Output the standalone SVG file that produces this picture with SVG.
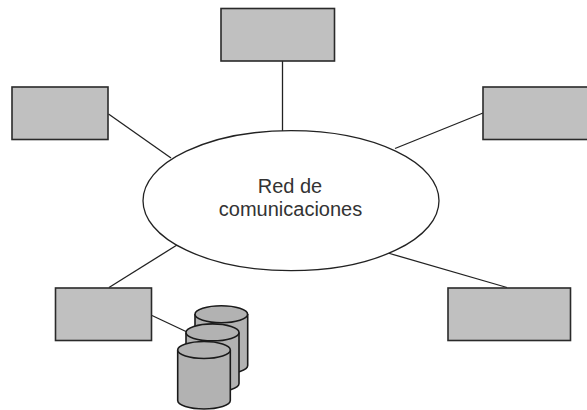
<svg xmlns="http://www.w3.org/2000/svg" width="587" height="410" viewBox="0 0 587 410">
<style>
.box{fill:#c0c0c0;stroke:#2a2a2a;stroke-width:1.6}
.link{fill:none;stroke:#222;stroke-width:1.3}
.cyl{fill:#b2b2b2;stroke:#1a1a1a;stroke-width:1.6}
.lbl{font-family:"Liberation Sans",Arial,sans-serif;font-size:20px;fill:#333;text-anchor:middle}
</style>
<rect width="587" height="410" fill="#fff"/>
<g id="connectors">
<path class="link" d="M282.500 61V131"/>
<path class="link" d="M108.500 114L171 158"/>
<path class="link" d="M483 113L395 148.500"/>
<path class="link" d="M388 253L507 287.500"/>
<path class="link" d="M177 245L109 287.500"/>
<path class="link" d="M152 315.500L187 332"/>
</g>
<g id="network"><ellipse cx="291" cy="200.700" rx="148" ry="70" fill="#fff" stroke="#222" stroke-width="1.300"/>
<text class="lbl" x="290" y="193">Red de</text>
<text class="lbl" x="290.500" y="216">comunicaciones</text></g>
<g id="node-top"><rect class="box" x="221" y="8.500" width="113.500" height="52.500"/></g>
<g id="node-left"><rect class="box" x="12" y="87" width="96" height="52.500"/></g>
<g id="node-right"><rect class="box" x="483" y="87" width="110" height="52.500"/></g>
<g id="node-bottom-right"><rect class="box" x="448" y="288" width="122.500" height="52.500"/></g>
<g id="node-bottom-left"><rect class="box" x="55.500" y="288" width="96" height="52.500"/></g>
<g id="storage">
<g id="disk-back"><path class="cyl" d="M195 314V365.500A26.300 8.500 0 0 0 247.700 365.500V314"/><ellipse class="cyl" cx="221.300" cy="314.200" rx="26.300" ry="8.500"/></g>
<g id="disk-middle"><path class="cyl" d="M186 332.500V383.500A26.500 8.500 0 0 0 239 383.500V332.500"/><ellipse class="cyl" cx="212.500" cy="332.400" rx="26.500" ry="8.500"/></g>
<g id="disk-front"><path class="cyl" d="M177.700 350V400.500A26.300 8.500 0 0 0 230.300 400.500V350"/><ellipse class="cyl" cx="204" cy="350" rx="26.300" ry="8.500"/></g>
</g>
</svg>
